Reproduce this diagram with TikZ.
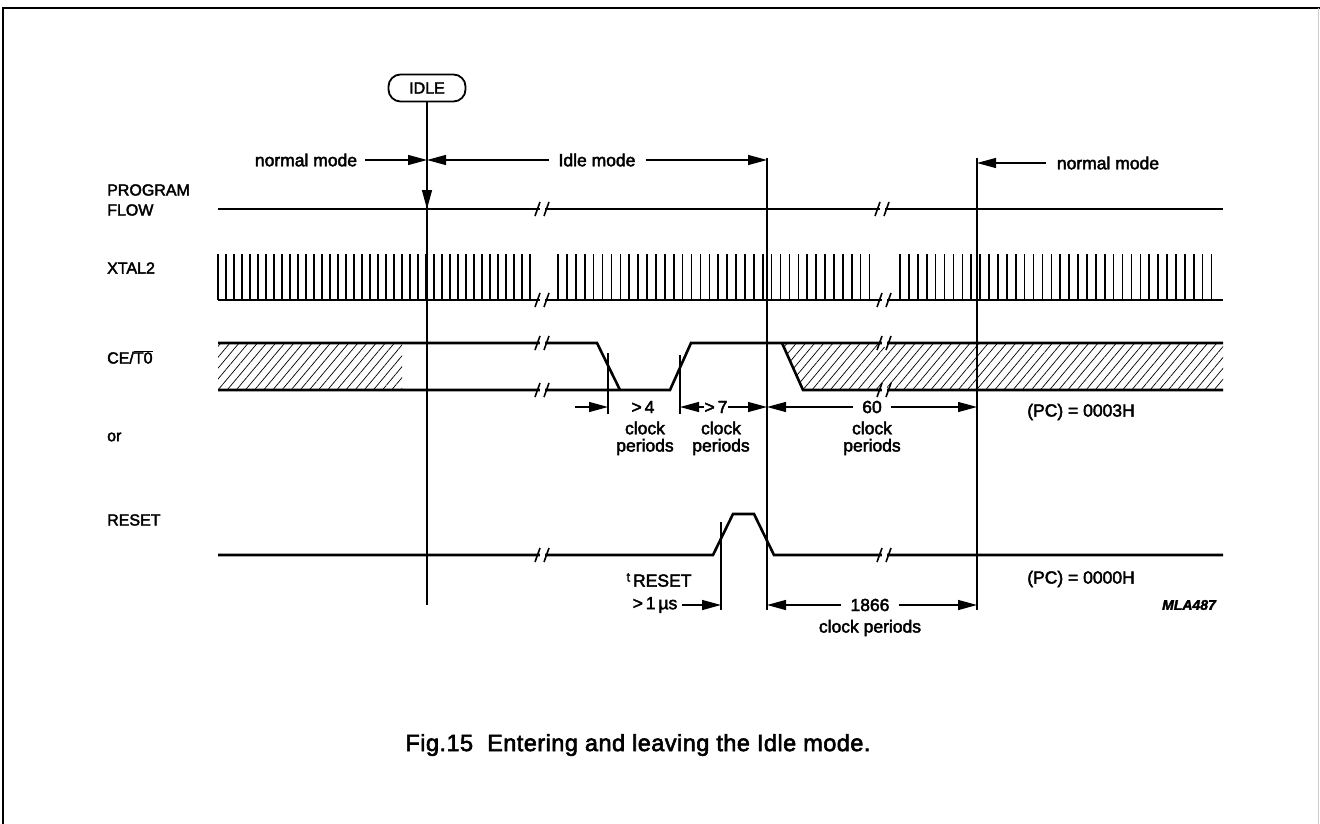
\documentclass[tikz,border=0pt]{standalone}
\usepackage{fontspec}
\setmainfont{Liberation Sans}[FakeBold=2.5]
\usetikzlibrary{arrows.meta,patterns.meta}
\tikzset{
  sig/.style={line width=2.6pt},
  vln/.style={line width=1.4pt},
  dimarrow/.style={line width=1.3pt,-{Triangle[length=19pt,width=10pt]}},
  tck/.style={line width=1.6pt},
  lab/.style={font=\fontsize{16}{19}\selectfont, inner sep=0pt},
  txt/.style={font=\fontsize{17.5}{21}\selectfont, inner sep=0pt},
  brkline/.style={line width=1.6pt},
  hatch/.style={pattern={Lines[angle=50,distance=7pt,line width=0.7pt]}},
}
\newcommand\sigbreak[2]{%
  \fill[white] (#1-3,#2-4) rectangle (#1+2,#2+4);
  \draw[brkline] (#1-8,#2+7) -- (#1-3,#2-7) (#1+1,#2+7) -- (#1+6,#2-7);
}
\begin{document}
\begin{tikzpicture}[x=1pt,y=-1pt]
\useasboundingbox (0,0) rectangle (1320,824);
\fill[white] (0,0) rectangle (1320,824);
% frame
\draw[line width=1.8pt] (3,824) -- (3,8) -- (1320,8);
\draw[black!20,line width=1pt] (1318,8) -- (1318,824);

% signal names
\node[lab,anchor=west] (lprog) at (107,190) {PROGRAM};
\node[lab,anchor=west] (lflow) at (107,210) {FLOW};
\node[lab,anchor=west] (lxtal) at (107,268) {XTAL2};
\node[lab,anchor=west] (lce) at (107,357) {CE/$\overline{\hbox{T0}}$};
\node[lab,anchor=west] (lor) at (107,437) {or};
\node[lab,anchor=west] (lres) at (107,520) {RESET};

% IDLE marker
\node[lab,draw,line width=1.8pt,rounded corners=12pt,minimum width=77pt,minimum height=27pt] (idle) at (427,88) {IDLE};
\coordinate (pf) at (427,209);
\coordinate (v1top) at (427,160);
\coordinate (v1bot) at (427,605);
\draw[vln] (idle.south) -- (v1bot);
\draw[dimarrow] (idle.south) -- (pf);

% mode vertical lines
\coordinate (v2top) at (767,158);
\coordinate (v2bot) at (767,610);
\coordinate (v3top) at (977,158);
\coordinate (v3bot) at (977,610);
\draw[vln] (v2top) -- (v2bot);
\draw[vln] (v3top) -- (v3bot);

% mode labels
\node[txt] (nm1) at (306,160) {normal mode};
\node[txt] (im) at (597,160) {Idle mode};
\node[txt] (nm2) at (1108,163) {normal mode};
\draw[dimarrow] ([xshift=8pt]nm1.east) -- (v1top);
\draw[dimarrow] ([xshift=-9pt]im.west) -- (v1top);
\draw[dimarrow] ([xshift=10pt]im.east) -- (767,160);
\draw[dimarrow] ([xshift=-11pt]nm2.west) -- (977,163);

% PROGRAM FLOW
\draw[sig] (218,209) -- (1223,209);
\sigbreak{543}{209}
\sigbreak{883}{209}

% XTAL2
\foreach \k in {0,...,39} {\draw[tck] (218+8*\k,254) -- (218+8*\k,300);}
\foreach \k in {0,...,35} {\draw[tck] (558+8.9*\k,254) -- (558+8.9*\k,300);}
\foreach \k in {0,...,35} {\draw[tck] (900+8.9*\k,254) -- (900+8.9*\k,300);}
\draw[sig] (218,300) -- (1223,300);
\sigbreak{543}{300}
\sigbreak{885}{300}

% CE/T0
\fill[hatch] (218,343) rectangle (402,390);
\fill[hatch] (782,343) -- (803,390) -- (1223,390) -- (1223,343) -- cycle;
\draw[sig] (218,343) -- (597,343) -- (620,390);
\draw[sig] (218,390) -- (670,390) -- (691,343) -- (1223,343);
\draw[sig] (782,343) -- (803,390) -- (1223,390);
\sigbreak{543}{343}
\sigbreak{543}{390}
\sigbreak{885}{343}
\sigbreak{885}{390}

% RESET
\draw[sig] (218,555) -- (713,555) -- (733,514) -- (754,514) -- (774,555) -- (1223,555);
\sigbreak{543}{555}
\sigbreak{885}{555}

% timing markers
\coordinate (m1top) at (608,353);
\coordinate (m1) at (608,407);
\coordinate (m1bot) at (608,414);
\coordinate (m2top) at (680,355);
\coordinate (m2) at (680,407);
\coordinate (m2bot) at (680,414);
\coordinate (m3top) at (721,522);
\coordinate (m3) at (721,605);
\coordinate (m3bot) at (721,610);
\draw[vln] (m1top) -- (m1bot);
\draw[vln] (m2top) -- (m2bot);
\draw[vln] (m3top) -- (m3bot);

% > 4 clock periods
\coordinate (a4) at (575,407);
\draw[dimarrow] (a4) -- (m1);
\node[txt] (gt4) at (643,407) {>\,4};
\node[txt] (ck4) at (645,428) {clock};
\node[txt] (pe4) at (645,447) {periods};

% > 7 clock periods
\node[txt] (gt7) at (716,407) {>\,7};
\draw[dimarrow] (gt7.west) -- (m2);
\draw[dimarrow] (gt7.east) -- (767,407);
\node[txt] (ck7) at (721,428) {clock};
\node[txt] (pe7) at (721,447) {periods};

% 60 clock periods
\node[txt] (n60) at (872,407) {60};
\draw[dimarrow] ([xshift=-9pt]n60.west) -- (767,407);
\draw[dimarrow] ([xshift=9pt]n60.east) -- (977,407);
\node[txt] (ck60) at (872,428) {clock};
\node[txt] (pe60) at (872,447) {periods};

% t RESET
\node[txt] (tres) at (659,580) {\raisebox{5pt}{\fontsize{13}{13}\selectfont t}\,RESET};
\node[txt] (us) at (655,605) {>\,1\,µs};
\draw[dimarrow] ([xshift=4pt]us.east) -- (m3);

% 1866 clock periods
\node[txt] (n1866) at (870,605) {1866};
\draw[dimarrow] ([xshift=-9pt]n1866.west) -- (767,605);
\draw[dimarrow] ([xshift=9pt]n1866.east) -- (977,605);
\node[txt] (cp1866) at (870,628) {clock periods};

% PC values
\node[txt] (pc3) at (1081,412) {(PC) = 0003H};
\node[txt] (pc0) at (1081,579) {(PC) = 0000H};
\node[font=\fontsize{14}{16}\selectfont\bfseries\itshape, inner sep=0pt] (mla) at (1189,605) {MLA487};

% caption
\node[font=\fontsize{23.5}{27}\selectfont\addfontfeature{LetterSpace=2}, inner sep=0pt] (cap) at (638,745) {Fig.15\ \ Entering and leaving the Idle mode.};
\end{tikzpicture}
\end{document}
